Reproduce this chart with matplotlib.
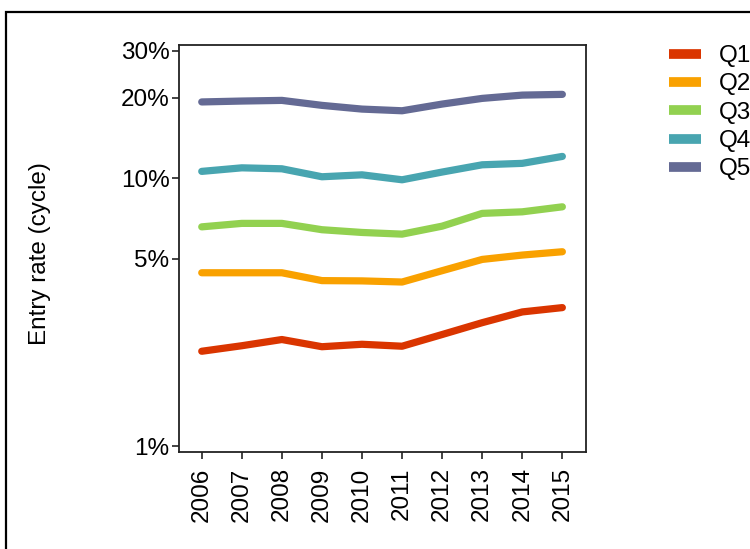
import matplotlib
matplotlib.use("Agg")
import matplotlib.pyplot as plt
from matplotlib.patches import Rectangle
from matplotlib.ticker import FixedLocator, NullLocator

years = [2006, 2007, 2008, 2009, 2010, 2011, 2012, 2013, 2014, 2015]
q1 = [2.26, 2.37, 2.50, 2.35, 2.40, 2.36, 2.61, 2.89, 3.17, 3.29]
q2 = [4.44, 4.44, 4.44, 4.15, 4.14, 4.10, 4.52, 4.98, 5.17, 5.32]
q3 = [6.59, 6.79, 6.79, 6.43, 6.28, 6.19, 6.63, 7.40, 7.50, 7.83]
q4 = [10.62, 10.95, 10.86, 10.14, 10.31, 9.88, 10.56, 11.24, 11.38, 12.08]
q5 = [19.3, 19.45, 19.56, 18.74, 18.15, 17.89, 18.95, 19.9, 20.47, 20.6]
series_labels = ["Q1", "Q2", "Q3", "Q4", "Q5"]
colors = ["#DA3500", "#F9A100", "#92D150", "#48A5B0", "#646A94"]
ytick_vals = [1, 5, 10, 20, 30]
ytick_labels = ["1%", "5%", "10%", "20%", "30%"]

plt.rcParams['font.family'] = ['Liberation Sans', 'DejaVu Sans']
FS = 17.5

W, H = 750, 549
fig = plt.figure(figsize=(W / 100, H / 100), dpi=100)
ax = fig.add_axes([178.5 / W, 1 - 452 / H, (586 - 178.5) / W, (452 - 45) / H])

for vals, lab, c in zip([q1, q2, q3, q4, q5], series_labels, colors):
    ax.plot(years, vals, color=c, lw=5.2, label=lab, solid_capstyle='round')

ax.set_yscale('log')
ax.set_ylim(0.95, 31.5)
ax.set_xlim(2005.42, 2015.59)
ax.yaxis.set_major_locator(FixedLocator(ytick_vals))
ax.yaxis.set_minor_locator(NullLocator())
ax.set_yticklabels(ytick_labels)
ax.set_xticks(years)
ax.set_xticklabels([str(y) for y in years], rotation=90)
ax.tick_params(axis='both', labelsize=FS, length=5, width=1.2, direction='out', color='#222222')
ax.tick_params(axis='y', pad=1.5)
ax.tick_params(axis='x', pad=6)
for s in ax.spines.values():
    s.set_linewidth(1.3)
    s.set_color('#222222')

fig.text(40 / W, 1 - 254 / H, "Entry rate (cycle)", rotation=90, fontsize=FS,
         ha='center', va='center')

# Legend at right
handles, labels = ax.get_legend_handles_labels()
leg = fig.legend(handles, labels, loc='upper left', bbox_to_anchor=(669 / W, 1 - 45 / H),
                 frameon=False, fontsize=FS, handlelength=1.32, handletextpad=0.75,
                 labelspacing=0.26, borderaxespad=0, borderpad=0)
for h in leg.legend_handles:
    h.set_linewidth(7)
    h.set_solid_capstyle('butt')

# Outer frame
fig.add_artist(Rectangle((6 / W, -0.1), 1.2, 1.1 - 12 / H, transform=fig.transFigure,
                         fill=False, edgecolor='black', lw=1.6, clip_on=False))

fig.savefig("out.png", dpi=100)
